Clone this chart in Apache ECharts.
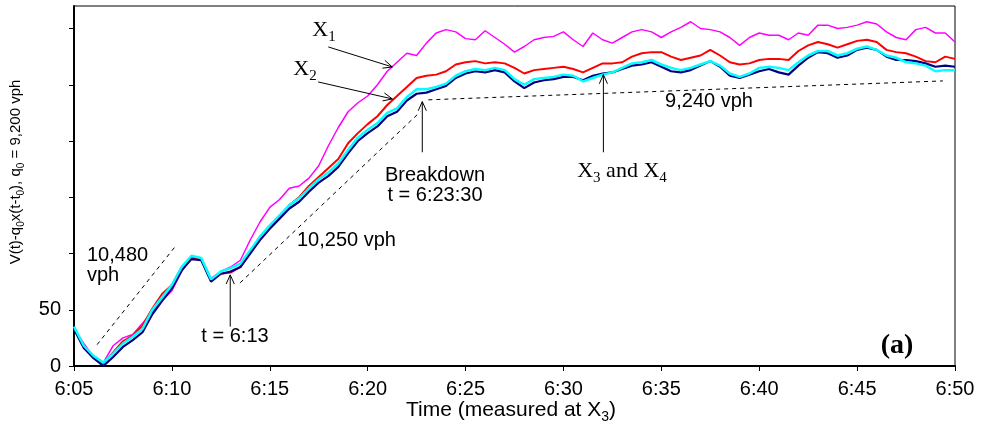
<!DOCTYPE html>
<html>
<head>
<meta charset="utf-8">
<script src="https://cdn.jsdelivr.net/npm/echarts@6/dist/echarts.min.js"></script>
<style>html,body{margin:0;padding:0;background:#fff}#c{width:983px;height:426px}</style>
</head>
<body>
<div id="c"></div>
<script>
// time in minutes after 6:00 (measured at X3)
var minutes = [5,5.5,6,6.5,7,7.5,8,8.5,9,9.5,10,10.5,11,11.5,12,12.5,13,13.5,14,14.5,15,15.5,16,16.5,17,17.5,18,18.5,19,19.5,20,20.5,21,21.5,22,22.5,23,23.5,24,24.5,25,25.5,26,26.5,27,27.5,28,28.5,29,29.5,30,30.5,31,31.5,32,32.5,33,33.5,34,34.5,35,35.5,36,36.5,37,37.5,38,38.5,39,39.5,40,40.5,41,41.5,42,42.5,43,43.5,44,44.5,45,45.5,46,46.5,47,47.5,48,48.5,49,49.5,50];

var x1 = [33,20,8,3,18,25,28,38,48,58,67,84,97,96,78,84,88,94,112,128,141,148,158,160,167,178,196,212,226,234,240,250,262,270,278,276,287,296,299,297,291,290,298,292,286,279,284,290,292,293,297,290,284,296,290,287,292,297,299,297,292,297,301,306,300,299,297,292,285,292,296,294,294,290,296,294,303,303,300,301,303,306,304,297,292,290,299,301,296,296,288];
var x2 = [33,18,8,2,12,22,27,36,51,64,72,88,96,95,76,82,83,88,101,115,124,133,143,150,160,168,176,184,198,207,215,222,232,240,248,256,258,259,262,268,270,271,269,270,269,265,260,263,264,265,266,264,261,265,269,269,270,275,278,279,279,275,272,274,276,281,276,270,268,269,272,273,273,272,280,285,288,286,283,286,289,290,288,281,279,278,275,271,270,275,273];
var x3 = [33,16,7,0,8,17,23,30,46,58,69,85,95,94,75,82,84,88,100,112,122,131,140,146,155,163,169,177,189,200,207,213,222,226,236,242,243,246,249,256,260,262,261,263,261,253,247,252,254,255,257,257,254,258,260,261,264,267,268,270,266,262,261,263,267,271,266,258,256,259,262,264,261,259,267,274,279,278,274,276,281,283,281,275,272,272,271,269,266,267,266];
var x4 = [35,18,9,3,11,20,26,33,50,61,72,88,98,96,77,84,87,91,103,115,125,134,143,149,158,166,172,180,192,203,210,216,225,229,239,246,246,248,251,258,262,264,263,265,263,255,250,255,256,257,259,258,253,256,259,261,265,269,270,272,268,265,263,265,268,271,267,260,257,260,265,266,265,263,270,276,280,280,276,278,282,284,281,276,274,270,269,267,262,263,263];

// flow-rate guide lines [start, end] in (minutes, value)
var rate10480 = [[6.18, 19], [10.16, 106]];
var rate10250 = [[13.49, 74], [22.69, 226]];
var rate9240 = [[23.1, 236.6], [49.38, 253.4]];

// annotation arrows [fromT, fromV, toT, toV]
var arrows = [
  [17.99, 283.6, 21.26, 265.8],
  [17.47, 252.5, 21.26, 237.4],
  [22.79, 190, 22.79, 235],
  [32.04, 190, 32.04, 259],
  [12.98, 35, 12.98, 81]
];

var yTicks = [0, 50, 100, 150, 200, 250, 300];
var yTickLabels = [0, 50];

function pairs(v) { return minutes.map(function (t, i) { return [t, v[i]]; }); }

var chart = echarts.init(document.getElementById('c'), null, {renderer: 'canvas'});
var sans = 'Liberation Sans, Arial, sans-serif';
var serif = 'Liberation Serif, Times New Roman, serif';

function lineSeries(name, data, color, w, z) {
  return {name: name, type: 'line', data: pairs(data), showSymbol: false, symbol: 'none',
    lineStyle: {color: color, width: w}, z: z, animation: false};
}
function dashSeries(d) {
  return {type: 'line', data: d, showSymbol: false, symbol: 'none',
    lineStyle: {color: '#000', width: 1, type: [4, 4]}, z: 1, animation: false};
}
// rich-text styles with subscripts: sub token is taller and bottom-aligned
function subRich(font, size, subSize, shift) {
  return {
    m: {fontFamily: font, fontSize: size, fill: '#000', verticalAlign: 'top', lineHeight: size},
    s: {fontFamily: font, fontSize: subSize, fill: '#000', verticalAlign: 'bottom', lineHeight: size + shift}
  };
}

var option = {
  animation: false,
  grid: {left: 74, top: 6, right: 28, bottom: 60, show: true, borderColor: '#000', borderWidth: 1},
  xAxis: {
    type: 'value', min: 5, max: 50, interval: 5,
    axisLine: {show: true, lineStyle: {color: '#000', width: 2}},
    axisTick: {show: true, length: 5, lineStyle: {color: '#000', width: 1}},
    splitLine: {show: false},
    axisLabel: {color: '#000', fontFamily: sans, fontSize: 20, margin: 13,
      formatter: function (v) { return '6:' + (v < 10 ? '0' + v : v); }}
  },
  yAxis: {
    type: 'value', min: 0, max: 320, interval: 50,
    axisLine: {show: true, lineStyle: {color: '#000', width: 2}},
    axisTick: {show: true, length: 5, customValues: yTicks, lineStyle: {color: '#000', width: 1}},
    splitLine: {show: false},
    axisLabel: {color: '#000', fontFamily: sans, fontSize: 20, margin: 13, customValues: yTickLabels,
      formatter: function (v) { return String(v); }}
  },
  series: [
    dashSeries(rate10480), dashSeries(rate10250), dashSeries(rate9240),
    lineSeries('X1', x1, '#ff00ff', 1.5, 3),
    lineSeries('X2', x2, '#ff0000', 2, 4),
    lineSeries('X3', x3, '#000080', 2.2, 5),
    lineSeries('X4', x4, '#00ffff', 2.5, 6),
    {
      type: 'custom', data: arrows, z: 10, animation: false,
      renderItem: function (params, api) {
        var p1 = api.coord([api.value(0), api.value(1)]);
        var p2 = api.coord([api.value(2), api.value(3)]);
        var ang = Math.atan2(p2[1] - p1[1], p2[0] - p1[0]);
        var L = 10, a = 0.42;
        var h1 = [p2[0] - L * Math.cos(ang - a), p2[1] - L * Math.sin(ang - a)];
        var h2 = [p2[0] - L * Math.cos(ang + a), p2[1] - L * Math.sin(ang + a)];
        var st = {stroke: '#000', lineWidth: 1, fill: null};
        return {type: 'group', children: [
          {type: 'line', shape: {x1: p1[0], y1: p1[1], x2: p2[0], y2: p2[1]}, style: st},
          {type: 'polyline', shape: {points: [h1, p2, h2]}, style: st}
        ]};
      }
    }
  ],
  graphic: [
    {type: 'text', x: 17, y: 172, rotation: Math.PI / 2, style: {
      text: '{m|V(t)-q}{s|0}{m|x(t-t}{s|0}{m|), q}{s|0}{m| = 9,200 vph}',
      align: 'center', verticalAlign: 'middle', rich: subRich(sans, 15, 10, 3)
    }},
    {type: 'text', x: 511, y: 412, style: {
      text: '{m|Time (measured at X}{s|3}{m|)}', align: 'center', verticalAlign: 'middle',
      rich: subRich(sans, 21, 14, 4)
    }},
    {type: 'text', x: 324, y: 32, style: {text: '{m|X}{s|1}', align: 'center', verticalAlign: 'middle',
      rich: subRich(serif, 22, 15, 4)}},
    {type: 'text', x: 305, y: 71, style: {text: '{m|X}{s|2}', align: 'center', verticalAlign: 'middle',
      rich: subRich(serif, 22, 15, 4)}},
    {type: 'text', x: 622, y: 173, style: {text: '{m|X}{s|3}{m| and X}{s|4}', align: 'center', verticalAlign: 'middle',
      rich: subRich(serif, 22, 15, 4)}},
    {type: 'text', x: 435, y: 175, style: {text: 'Breakdown', fontFamily: sans, fontSize: 20, fill: '#000', align: 'center', verticalAlign: 'middle'}},
    {type: 'text', x: 435, y: 195, style: {text: 't = 6:23:30', fontFamily: sans, fontSize: 20, fill: '#000', align: 'center', verticalAlign: 'middle'}},
    {type: 'text', x: 709, y: 101, style: {text: '9,240 vph', fontFamily: sans, fontSize: 20, fill: '#000', align: 'center', verticalAlign: 'middle'}},
    {type: 'text', x: 297, y: 240, style: {text: '10,250 vph', fontFamily: sans, fontSize: 20, fill: '#000', align: 'left', verticalAlign: 'middle'}},
    {type: 'text', x: 87, y: 255, style: {text: '10,480', fontFamily: sans, fontSize: 20, fill: '#000', align: 'left', verticalAlign: 'middle'}},
    {type: 'text', x: 87, y: 275, style: {text: 'vph', fontFamily: sans, fontSize: 20, fill: '#000', align: 'left', verticalAlign: 'middle'}},
    {type: 'text', x: 235, y: 336, style: {text: 't = 6:13', fontFamily: sans, fontSize: 20, fill: '#000', align: 'center', verticalAlign: 'middle'}},
    {type: 'text', x: 897, y: 346, style: {text: '(a)', fontFamily: serif, fontWeight: 'bold', fontSize: 28, fill: '#000', align: 'center', verticalAlign: 'middle'}}
  ]
};
chart.setOption(option);
</script>
</body>
</html>
